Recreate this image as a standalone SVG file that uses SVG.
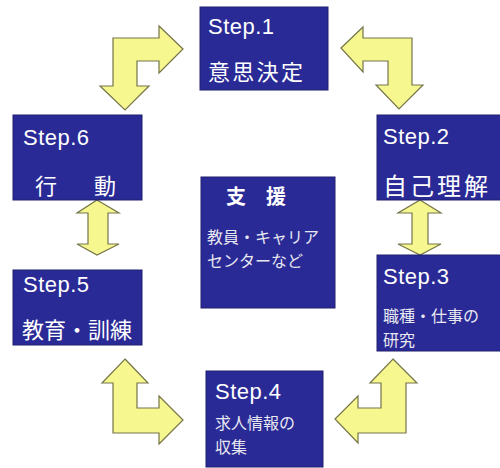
<svg xmlns="http://www.w3.org/2000/svg" width="500" height="468" viewBox="0 0 500 468">
<style>
.box{fill:#2a2a96;stroke:#1e1e70;stroke-width:1}
.arr{fill:#f7f790;stroke:#75754a;stroke-width:1.2;stroke-linejoin:miter}
.st{font-family:"Liberation Sans",Arial,sans-serif;font-size:22px;letter-spacing:0.5px;fill:#ffffff}
.jp{font-family:"Noto Sans CJK JP","Noto Sans",sans-serif;fill:#ffffff}
.big{font-size:22px}
.sm{font-size:16px;fill:#e8e8f0}
</style>
<rect width="500" height="468" fill="#ffffff"/>
<g id="connectors">
<path class="arr" d="M183,49 L159,26 L159,38 L113,38 L113,86 L100,86 L125,110 L149,86 L137,86 L137,61 L159,61 L159,73 Z"/>
<path class="arr" d="M341,48 L363,27 L363,38 L412,38 L412,85 L423,85 L399,109 L376,85 L388,85 L388,61 L363,61 L363,72 Z"/>
<path class="arr" d="M420,200 L441,213 L428,213 L428,244 L441,244 L420,255 L398,244 L412,244 L412,213 L398,213 Z"/>
<path class="arr" d="M97,200 L119,213 L108,213 L108,244 L119,244 L97,255 L77,244 L88,244 L88,213 L77,213 Z"/>
<path class="arr" d="M125,359 L148,383 L137,383 L137,408 L159,408 L159,396 L183,420 L159,444 L159,433 L113,433 L113,383 L102,383 Z"/>
<path class="arr" d="M393,359 L417,383 L406,383 L406,433 L358,433 L358,443 L335,419 L358,396 L358,408 L381,408 L381,383 L370,383 Z"/>
</g>
<g id="step1">
<rect class="box" x="200" y="7" width="128" height="83"/>
<text class="st" x="208" y="34">Step.1</text>
<text class="jp big" x="208" y="80" style="letter-spacing:2.3px">意思決定</text>
</g>
<g id="step2">
<rect class="box" x="377" y="115" width="125" height="85"/>
<text class="st" x="383" y="144">Step.2</text>
<text class="jp" x="383" y="195" style="font-size:24px;letter-spacing:3px">自己理解</text>
</g>
<g id="step3">
<rect class="box" x="377" y="255" width="125" height="96"/>
<text class="st" x="383" y="284">Step.3</text>
<text class="jp sm" x="383" y="322">職種・仕事の</text>
<text class="jp sm" x="383" y="346">研究</text>
</g>
<g id="step4">
<rect class="box" x="206" y="371" width="117" height="96"/>
<text class="st" x="215" y="399">Step.4</text>
<text class="jp sm" x="215" y="429">求人情報の</text>
<text class="jp sm" x="215" y="453">収集</text>
</g>
<g id="step5">
<rect class="box" x="13" y="270" width="129" height="75"/>
<text class="st" x="23" y="292">Step.5</text>
<text class="jp big" x="22" y="338">教育・訓練</text>
</g>
<g id="step6">
<rect class="box" x="13" y="115" width="129" height="85"/>
<text class="st" x="23" y="145">Step.6</text>
<text class="jp" x="35" y="194" style="font-size:22px;letter-spacing:7.5px">行　動</text>
</g>
<g id="support">
<rect class="box" x="201" y="177" width="134" height="131"/>
<text class="jp" x="226" y="204" style="font-size:20px;font-weight:bold">支　援</text>
<text class="jp sm" x="207" y="243">教員・キャリア</text>
<text class="jp sm" x="207" y="267">センターなど</text>
</g>
</svg>
